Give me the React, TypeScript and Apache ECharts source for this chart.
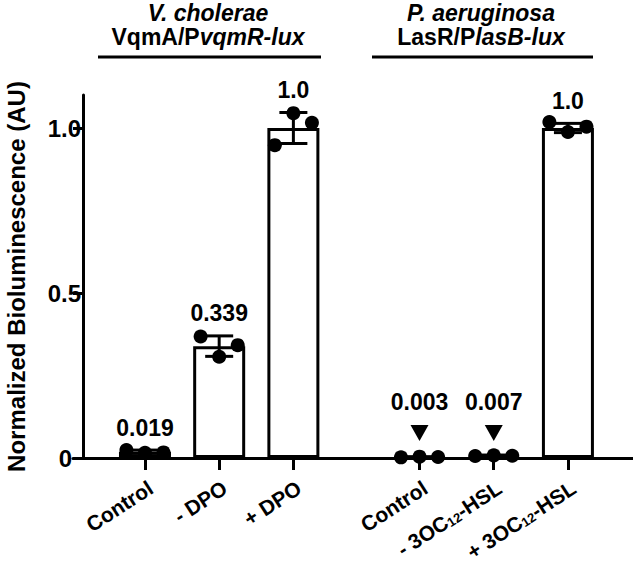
import React, { useEffect, useRef } from "react";
import * as echarts from "echarts";

// ---- data ----
const categories = [
  "Control",
  "- DPO",
  "+ DPO",
  "Control",
  "- 3OC{sub|12}-HSL",
  "+ 3OC{sub|12}-HSL",
];
const xPositions = [0, 1, 2, 3.7, 4.7, 5.7];
const means = [0.019, 0.339, 1.0, 0.003, 0.007, 1.0];
const errors = [0.005, 0.031, 0.047, 0.001, 0.002, 0.014];
const replicates = [
  [0.024, 0.016, 0.017],
  [0.368, 0.307, 0.342],
  [0.948, 1.045, 1.016],
  [0.002, 0.004, 0.003],
  [0.006, 0.008, 0.007],
  [1.018, 0.988, 1.004],
];
const valueLabels = ["0.019", "0.339", "1.0", "0.003", "0.007", "1.0"];
const arrowMarked = [false, false, false, true, true, false];
const arrowLevel = 0.076;
const dotOffsets = [-0.25, 0, 0.25];
const yTicks = [0, 0.5, 1.0];
const yTickLabels = ["0", "0.5", "1.0"];
const yAxisTitle = "Normalized Bioluminescence (AU)";
const groupTitleLine1 = ["V. cholerae", "P. aeruginosa"];
const groupTitleLine2 = ["VqmA/P{i|vqmR-lux}", "LasR/P{i|lasB-lux}"];

const FONT = "'Liberation Sans', Arial, Helvetica, sans-serif";

export default function App() {
  const ref = useRef<HTMLDivElement>(null);

  useEffect(() => {
    if (!ref.current) return;
    const chart = echarts.init(ref.current, null, { renderer: "svg" });

    const barData = xPositions.map((x, i) => [x, means[i]]);
    const errData = xPositions.map((x, i) => [x, means[i] - errors[i], means[i] + errors[i]]);
    const dotData: number[][] = [];
    replicates.forEach((reps, i) => {
      reps.forEach((v, j) => dotData.push([xPositions[i] + dotOffsets[j], v]));
    });
    const labelData: any[] = [];
    const arrowData: any[] = [];
    xPositions.forEach((x, i) => {
      if (arrowMarked[i]) arrowData.push({ value: [x, arrowLevel], name: valueLabels[i] });
      else labelData.push({ value: [x, means[i] + errors[i]], name: valueLabels[i] });
    });

    const labelStyle = {
      show: true,
      position: "top",
      distance: 11,
      formatter: (p: any) => p.name,
      color: "#000",
      opacity: 1,
      fontSize: 23,
      fontWeight: "bold",
      fontFamily: FONT,
    };

    const titleText = (text: string, x: number, y: number, italic: boolean) => ({
      type: "text",
      x,
      y,
      silent: true,
      style: {
        text,
        fill: "#000",
        fontSize: 23,
        fontWeight: "bold",
        fontStyle: italic ? "italic" : "normal",
        fontFamily: FONT,
        textAlign: "center",
        textVerticalAlign: "middle",
        rich: {
          i: {
            fontSize: 23,
            fontWeight: "bold",
            fontStyle: "italic",
            fontFamily: FONT,
            fill: "#000",
          },
        },
      },
    });

    const option: any = {
      animation: false,
      backgroundColor: "#fff",
      grid: {
        left: 73,
        right: 0,
        top: 95,
        bottom: 111,
        containLabel: false,
        outerBoundsMode: "none",
      },
      xAxis: {
        type: "value",
        min: -0.97,
        max: 6.577,
        splitLine: { show: false },
        axisLine: { show: true, onZero: false, lineStyle: { color: "#000", width: 3 } },
        axisTick: {
          show: true,
          length: 12,
          customValues: xPositions,
          lineStyle: { color: "#000", width: 3 },
        },
        axisLabel: {
          customValues: xPositions,
          rotate: 33,
          margin: 19,
          verticalAlign: "top",
          color: "#000",
          fontSize: 21,
          fontWeight: "bold",
          fontFamily: FONT,
          formatter: (v: number) => {
            const idx = xPositions.findIndex((p) => Math.abs(p - v) < 1e-6);
            return idx >= 0 ? categories[idx] : "";
          },
          rich: {
            sub: {
              fontSize: 13,
              fontWeight: "bold",
              fontFamily: FONT,
              color: "#000",
              verticalAlign: "bottom",
            },
          },
        },
      },
      yAxis: {
        type: "value",
        min: 0,
        max: 1.1,
        offset: -10,
        splitLine: { show: false },
        name: yAxisTitle,
        nameLocation: "middle",
        nameGap: 55,
        nameTextStyle: {
          color: "#000",
          fontSize: 24,
          fontWeight: "bold",
          fontFamily: FONT,
        },
        axisLine: { show: true, onZero: false, lineStyle: { color: "#000", width: 3 } },
        axisTick: {
          show: true,
          length: 10,
          customValues: yTicks,
          lineStyle: { color: "#000", width: 3 },
        },
        axisLabel: {
          customValues: yTicks,
          margin: 2,
          color: "#000",
          fontSize: 24,
          fontWeight: "bold",
          fontFamily: FONT,
          formatter: (v: number) => {
            const idx = yTicks.findIndex((t) => Math.abs(t - v) < 1e-6);
            if (idx < 0) return "";
            return v === 0 ? "{z|" + yTickLabels[idx] + "}" : yTickLabels[idx];
          },
          rich: {
            z: {
              padding: [0, 9, 0, 0],
              fontSize: 24,
              fontWeight: "bold",
              fontFamily: FONT,
              color: "#000",
            },
          },
        },
      },
      series: [
        {
          type: "bar",
          data: barData,
          barWidth: 52,
          itemStyle: { color: "#fff", borderColor: "#000", borderWidth: 3, opacity: 1 },
          z: 2,
        },
        {
          type: "custom",
          data: errData,
          encode: { x: 0, y: [1, 2] },
          z: 3,
          renderItem: (params: any, api: any) => {
            const x = api.value(0);
            const top = api.coord([x, api.value(2)]);
            const bot = api.coord([x, api.value(1)]);
            const half = 14;
            const style = { stroke: "#000", lineWidth: 3, fill: "none" };
            return {
              type: "group",
              children: [
                { type: "line", shape: { x1: top[0], y1: top[1], x2: bot[0], y2: bot[1] }, style },
                { type: "line", shape: { x1: top[0] - half, y1: top[1], x2: top[0] + half, y2: top[1] }, style },
                { type: "line", shape: { x1: bot[0] - half, y1: bot[1], x2: bot[0] + half, y2: bot[1] }, style },
              ],
            };
          },
        },
        {
          type: "scatter",
          data: dotData,
          symbol: "circle",
          symbolSize: 14,
          itemStyle: { color: "#000", opacity: 1 },
          z: 4,
        },
        {
          type: "scatter",
          data: labelData,
          symbolSize: 0,
          itemStyle: { color: "#000", opacity: 1 },
          label: labelStyle,
          z: 5,
        },
        {
          type: "scatter",
          data: arrowData,
          symbol: "triangle",
          symbolRotate: 180,
          symbolSize: [18, 16],
          itemStyle: { color: "#000", opacity: 1 },
          label: labelStyle,
          z: 5,
        },
      ],
      graphic: [
        titleText(groupTitleLine1[0], 208, 13, true),
        titleText(groupTitleLine2[0], 208, 37, false),
        {
          type: "line",
          silent: true,
          shape: { x1: 98, y1: 57, x2: 321, y2: 57 },
          style: { stroke: "#000", lineWidth: 3 },
        },
        titleText(groupTitleLine1[1], 481, 13, true),
        titleText(groupTitleLine2[1], 481, 37, false),
        {
          type: "line",
          silent: true,
          shape: { x1: 372, y1: 57, x2: 593, y2: 57 },
          style: { stroke: "#000", lineWidth: 3 },
        },
      ],
    };

    chart.setOption(option);
    return () => chart.dispose();
  }, []);

  return (
    <div
      ref={ref}
      style={{ position: "fixed", left: 0, top: 0, width: 633, height: 569, background: "#fff" }}
    />
  );
}
